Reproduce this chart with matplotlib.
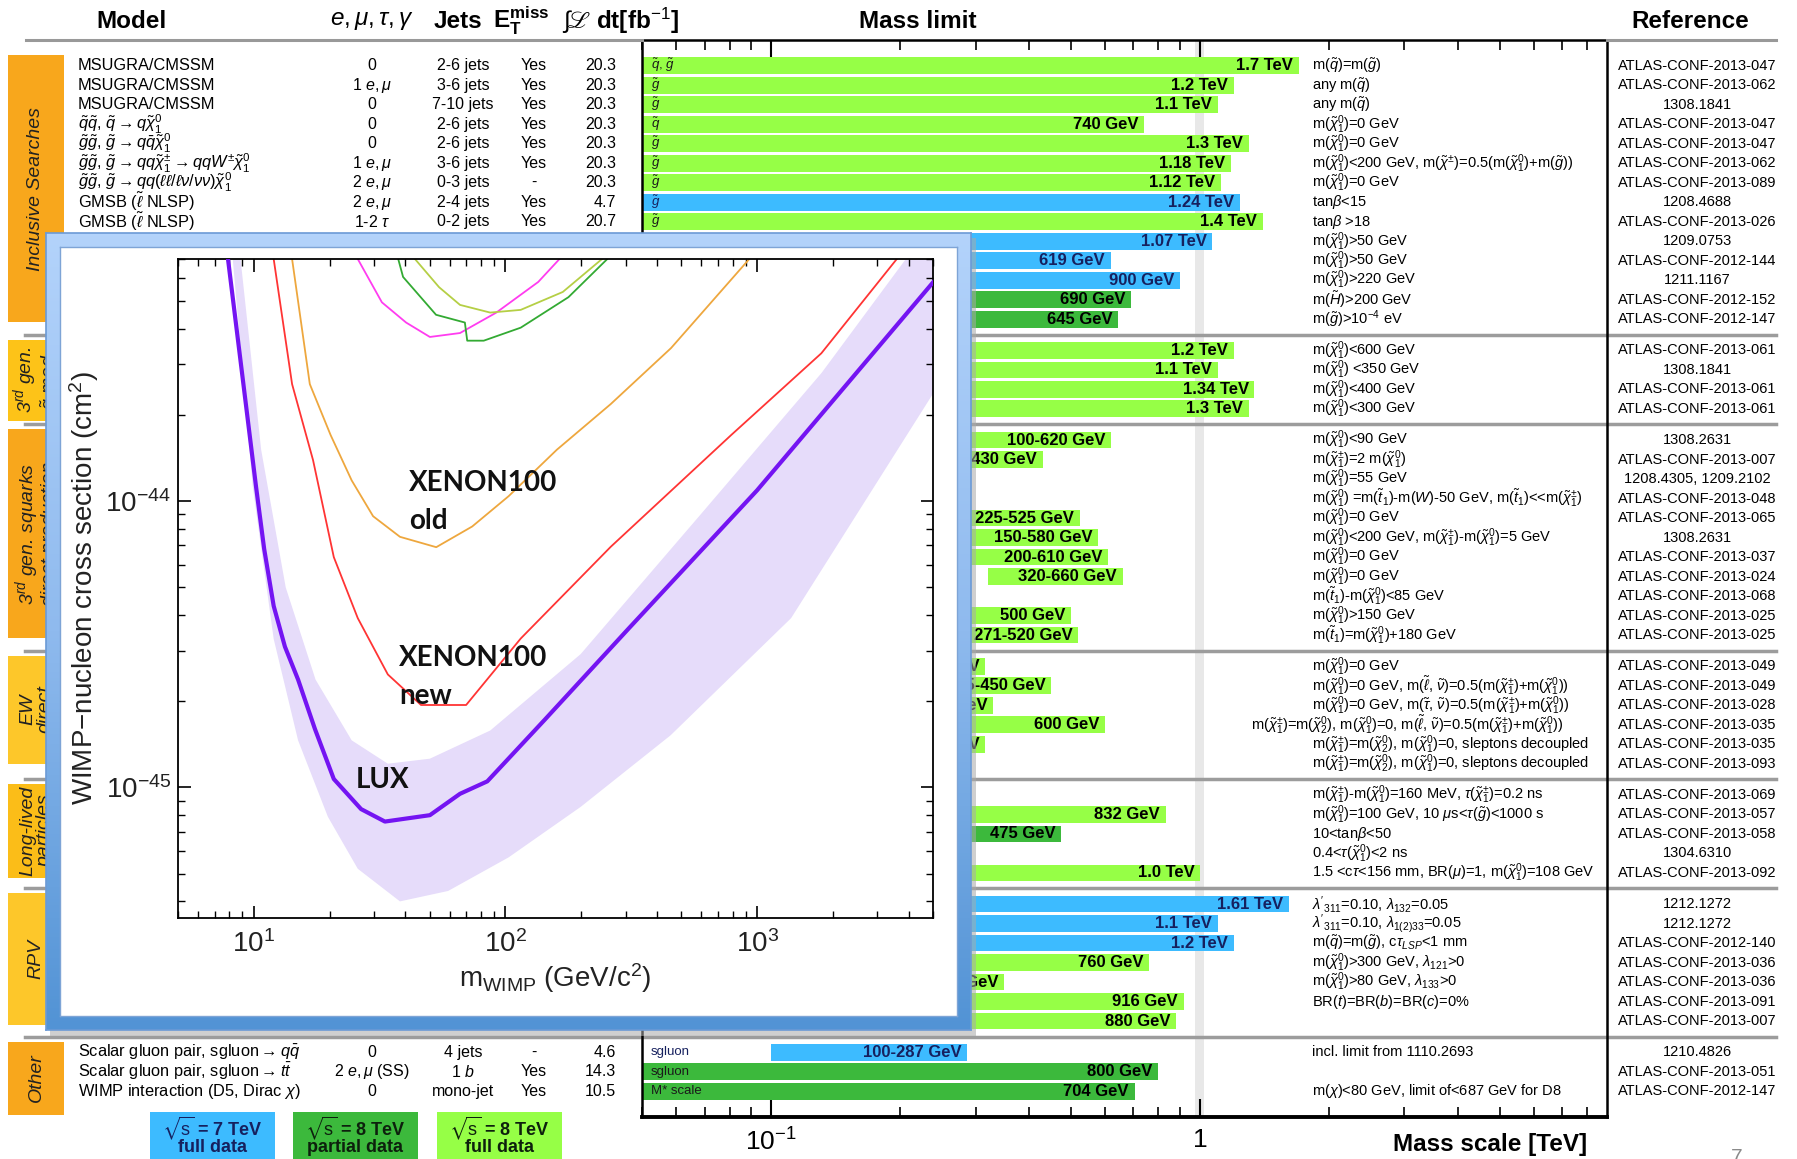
import numpy as np
import matplotlib
matplotlib.use('Agg')
import matplotlib.pyplot as plt
import matplotlib.transforms as mtransforms
from matplotlib.patches import Rectangle
from matplotlib.lines import Line2D
from matplotlib.colors import LinearSegmentedColormap
from matplotlib.ticker import NullFormatter

plt.rcParams['font.family'] = ['Liberation Sans', 'DejaVu Sans']
plt.rcParams['mathtext.fontset'] = 'custom'
plt.rcParams['mathtext.rm'] = 'Liberation Sans'
plt.rcParams['mathtext.it'] = 'Liberation Sans:italic'
plt.rcParams['mathtext.bf'] = 'Liberation Sans:bold'
plt.rcParams['mathtext.fallback'] = 'stix'

# ---------------- table data ----------------
section_names = ['Inclusive Searches', '3$^{rd}$ gen.\n$\\tilde{g}$ med.',
                 '3$^{rd}$ gen. squarks\ndirect production', 'EW\ndirect',
                 'Long-lived\nparticles', 'RPV', 'Other']
section_sizes = [14, 4, 11, 6, 5, 7, 3]

models = [
    'MSUGRA/CMSSM', 'MSUGRA/CMSSM', 'MSUGRA/CMSSM',
    r'$\tilde{q}\tilde{q}$, $\tilde{q}\rightarrow q\tilde{\chi}_1^0$',
    r'$\tilde{g}\tilde{g}$, $\tilde{g}\rightarrow q\bar{q}\tilde{\chi}_1^0$',
    r'$\tilde{g}\tilde{g}$, $\tilde{g}\rightarrow qq\tilde{\chi}_1^{\pm}\rightarrow qqW^{\pm}\tilde{\chi}_1^0$',
    r'$\tilde{g}\tilde{g}$, $\tilde{g}\rightarrow qq(\ell\ell/\ell\nu/\nu\nu)\tilde{\chi}_1^0$',
    r'GMSB ($\tilde{\ell}$ NLSP)', r'GMSB ($\tilde{\ell}$ NLSP)',
    'GGM (bino NLSP)', 'GGM (wino NLSP)', 'GGM (higgsino-bino NLSP)',
    'GGM (higgsino NLSP)', 'Gravitino LSP',
    r'$\tilde{g}\rightarrow b\bar{b}\tilde{\chi}_1^0$', r'$\tilde{g}\rightarrow t\bar{t}\tilde{\chi}_1^0$',
    r'$\tilde{g}\rightarrow t\bar{t}\tilde{\chi}_1^0$', r'$\tilde{g}\rightarrow b\bar{t}\tilde{\chi}_1^+$',
    r'$\tilde{b}_1\tilde{b}_1$, $\tilde{b}_1\rightarrow b\tilde{\chi}_1^0$',
    r'$\tilde{b}_1\tilde{b}_1$, $\tilde{b}_1\rightarrow t\tilde{\chi}_1^{\pm}$',
    r'$\tilde{t}_1\tilde{t}_1$(light), $\tilde{t}_1\rightarrow b\tilde{\chi}_1^{\pm}$',
    r'$\tilde{t}_1\tilde{t}_1$(light), $\tilde{t}_1\rightarrow Wb\tilde{\chi}_1^0$',
    r'$\tilde{t}_1\tilde{t}_1$(medium), $\tilde{t}_1\rightarrow t\tilde{\chi}_1^0$',
    r'$\tilde{t}_1\tilde{t}_1$(medium), $\tilde{t}_1\rightarrow b\tilde{\chi}_1^{\pm}$',
    r'$\tilde{t}_1\tilde{t}_1$(heavy), $\tilde{t}_1\rightarrow t\tilde{\chi}_1^0$',
    r'$\tilde{t}_1\tilde{t}_1$(heavy), $\tilde{t}_1\rightarrow t\tilde{\chi}_1^0$',
    r'$\tilde{t}_1\tilde{t}_1$, $\tilde{t}_1\rightarrow c\tilde{\chi}_1^0$',
    r'$\tilde{t}_1\tilde{t}_1$(natural GMSB)',
    r'$\tilde{t}_2\tilde{t}_2$, $\tilde{t}_2\rightarrow\tilde{t}_1+Z$',
    r'$\tilde{\ell}_{L,R}\tilde{\ell}_{L,R}$, $\tilde{\ell}\rightarrow\ell\tilde{\chi}_1^0$',
    r'$\tilde{\chi}_1^+\tilde{\chi}_1^-$, $\tilde{\chi}_1^+\rightarrow\tilde{\ell}\nu$',
    r'$\tilde{\chi}_1^+\tilde{\chi}_1^-$, $\tilde{\chi}_1^+\rightarrow\tilde{\tau}\nu$',
    r'$\tilde{\chi}_1^{\pm}\tilde{\chi}_2^0\rightarrow\tilde{\ell}_L\nu\tilde{\ell}_L\ell$',
    r'$\tilde{\chi}_1^{\pm}\tilde{\chi}_2^0\rightarrow W\tilde{\chi}_1^0Z\tilde{\chi}_1^0$',
    r'$\tilde{\chi}_1^{\pm}\tilde{\chi}_2^0\rightarrow W\tilde{\chi}_1^0h\tilde{\chi}_1^0$',
    r'Direct $\tilde{\chi}_1^+\tilde{\chi}_1^-$ prod., long-lived $\tilde{\chi}_1^{\pm}$',
    r'Stable, stopped $\tilde{g}$ R-hadron', r'GMSB, stable $\tilde{\tau}$',
    r'GMSB, $\tilde{\chi}_1^0\rightarrow\gamma\tilde{G}$, long-lived $\tilde{\chi}_1^0$',
    r'$\tilde{q}\tilde{q}$, $\tilde{\chi}_1^0\rightarrow qq\mu$ (RPV)',
    r'LFV $pp\rightarrow\tilde{\nu}_\tau+X$, $\tilde{\nu}_\tau\rightarrow e+\mu$',
    r'LFV $pp\rightarrow\tilde{\nu}_\tau+X$, $\tilde{\nu}_\tau\rightarrow e(\mu)+\tau$',
    'Bilinear RPV CMSSM',
    r'$\tilde{\chi}_1^+\tilde{\chi}_1^-$, $\tilde{\chi}_1^+\rightarrow W\tilde{\chi}_1^0$, $\tilde{\chi}_1^0\rightarrow ee\tilde{\nu}_\mu$',
    r'$\tilde{\chi}_1^+\tilde{\chi}_1^-$, $\tilde{\chi}_1^+\rightarrow W\tilde{\chi}_1^0$, $\tilde{\chi}_1^0\rightarrow\tau\tau\tilde{\nu}_e$',
    r'$\tilde{g}\rightarrow qqq$', r'$\tilde{g}\rightarrow\tilde{t}_1t$, $\tilde{t}_1\rightarrow bs$',
    r'Scalar gluon pair, sgluon$\rightarrow q\bar{q}$',
    r'Scalar gluon pair, sgluon$\rightarrow t\bar{t}$',
    r'WIMP interaction (D5, Dirac $\chi$)',
]

leptons = ['0', r'1 $e,\mu$', '0', '0', '0', r'1 $e,\mu$', r'2 $e,\mu$', r'2 $e,\mu$', r'1-2 $\tau$',
           r'2 $\gamma$', r'1 $e,\mu$ + $\gamma$', r'$\gamma$', r'2 $e,\mu$ (Z)', '0',
           '0', '0', r'0-1 $e,\mu$', r'0-1 $e,\mu$',
           '0', r'2 $e,\mu$ (SS)', r'1-2 $e,\mu$', r'2 $e,\mu$', r'2 $e,\mu$', '0', r'1 $e,\mu$',
           '0', '0', r'2 $e,\mu$ (Z)', r'3 $e,\mu$ (Z)',
           r'2 $e,\mu$', r'2 $e,\mu$', r'2 $\tau$', r'3 $e,\mu$', r'3 $e,\mu$', r'1 $e,\mu$',
           'Disapp. trk', '0', r'1-2 $\mu$', r'2 $\gamma$', r'1 $\mu$, displ. vtx',
           r'2 $e,\mu$', r'1 $e,\mu$ + $\tau$', r'1 $e,\mu$', r'4 $e,\mu$', r'3 $e,\mu$ + $\tau$', '0',
           r'2 $e,\mu$ (SS)',
           '0', r'2 $e,\mu$ (SS)', '0']

jets = ['2-6 jets', '3-6 jets', '7-10 jets', '2-6 jets', '2-6 jets', '3-6 jets', '0-3 jets', '2-4 jets',
        '0-2 jets', '-', '-', r'1 $b$', '0-3 jets', 'mono-jet',
        r'3 $b$', '7-10 jets', r'3 $b$', r'3 $b$',
        r'2 $b$', r'0-3 $b$', r'1-2 $b$', '0-2 jets', '2 jets', r'2 $b$', r'1 $b$', r'2 $b$',
        'mono-jet/c-tag', r'1 $b$', r'1 $b$',
        '0', '0', '0', '0', '0', r'2 $b$',
        '1 jet', '1-5 jets', '-', '-', '-',
        '-', '-', '7 jets', '-', '-', '6-7 jets', r'0-3 $b$',
        '4 jets', r'1 $b$', 'mono-jet']

etmiss = ['Yes'] * 6 + ['-'] + ['Yes'] * 7 + ['Yes'] * 4 + ['Yes'] * 11 + ['Yes'] * 6 + \
         ['Yes', 'Yes', '-', 'Yes', '-'] + ['-', '-', 'Yes', 'Yes', 'Yes', '-', 'Yes'] + ['-', 'Yes', 'Yes']

lumi = [20.3] * 7 + [4.7, 20.7, 4.8, 4.8, 4.8, 5.8, 10.5,
                     20.1, 20.3, 20.1, 20.1,
                     20.1, 20.7, 4.7, 20.3, 20.3, 20.1, 20.7, 20.5, 20.3, 20.7, 20.7,
                     20.3, 20.3, 20.7, 20.7, 20.7, 20.3,
                     20.3, 22.9, 15.9, 4.7, 20.3,
                     4.6, 4.6, 4.7, 20.7, 20.7, 20.3, 20.7,
                     4.6, 14.3, 10.5]

# ---------------- mass limits (TeV) ----------------
particles = [r'$\tilde{q}$, $\tilde{g}$'] + [r'$\tilde{g}$'] * 2 + [r'$\tilde{q}$'] + [r'$\tilde{g}$'] * 9 + \
            ['F$^{1/2}$ scale'] + [r'$\tilde{g}$'] * 4 + [r'$\tilde{b}_1$'] * 2 + [r'$\tilde{t}_1$'] * 8 + \
            [r'$\tilde{t}_2$', r'$\tilde{\ell}$', r'$\tilde{\chi}_1^{\pm}$', r'$\tilde{\chi}_1^{\pm}$'] + \
            [r'$\tilde{\chi}_1^{\pm}$, $\tilde{\chi}_2^0$'] * 3 + \
            [r'$\tilde{\chi}_1^{\pm}$', r'$\tilde{g}$', r'$\tilde{\tau}$', r'$\tilde{\chi}_1^0$', r'$\tilde{q}$',
             r'$\tilde{\nu}_\tau$', r'$\tilde{\nu}_\tau$', r'$\tilde{q}=\tilde{g}$', r'$\tilde{\chi}_1^{\pm}$',
             r'$\tilde{\chi}_1^{\pm}$', r'$\tilde{g}$', r'$\tilde{g}$', 'sgluon', 'sgluon', 'M* scale']

mass_low = [0] * 18 + [0.1, 0.275, 0.11, 0.13, 0.225, 0.15, 0.2, 0.32, 0.09, 0, 0.271,
                       0.085, 0.125, 0.18, 0, 0, 0] + [0] * 12 + [0.1, 0, 0]
mass_high = [1.7, 1.2, 1.1, 0.74, 1.3, 1.18, 1.12, 1.24, 1.4, 1.07, 0.619, 0.9, 0.69, 0.645,
             1.2, 1.1, 1.34, 1.3,
             0.62, 0.43, 0.167, 0.22, 0.525, 0.58, 0.61, 0.66, 0.2, 0.5, 0.52,
             0.315, 0.45, 0.33, 0.6, 0.315, 0.285,
             0.27, 0.832, 0.475, 0.23, 1.0,
             1.61, 1.1, 1.2, 0.76, 0.35, 0.916, 0.88,
             0.287, 0.8, 0.704]
mass_labels = ['1.7 TeV', '1.2 TeV', '1.1 TeV', '740 GeV', '1.3 TeV', '1.18 TeV', '1.12 TeV', '1.24 TeV',
               '1.4 TeV', '1.07 TeV', '619 GeV', '900 GeV', '690 GeV', '645 GeV',
               '1.2 TeV', '1.1 TeV', '1.34 TeV', '1.3 TeV',
               '100-620 GeV', '275-430 GeV', '110-167 GeV', '130-220 GeV', '225-525 GeV', '150-580 GeV',
               '200-610 GeV', '320-660 GeV', '90-200 GeV', '500 GeV', '271-520 GeV',
               '85-315 GeV', '125-450 GeV', '180-330 GeV', '600 GeV', '315 GeV', '285 GeV',
               '270 GeV', '832 GeV', '475 GeV', '230 GeV', '1.0 TeV',
               '1.61 TeV', '1.1 TeV', '1.2 TeV', '760 GeV', '350 GeV', '916 GeV', '880 GeV',
               '100-287 GeV', '800 GeV', '704 GeV']
# B: 7 TeV full data, D: 8 TeV partial data, L: 8 TeV full data
dataset = 'LLLLLLLBLBBBDD' + 'LLLL' + 'LLBLLLLLLLL' + 'LLLLLL' + 'LLDBL' + 'BBBLLLL' + 'BDD'

conditions = [
    r'm($\tilde{q}$)=m($\tilde{g}$)', r'any m($\tilde{q}$)', r'any m($\tilde{q}$)',
    r'm($\tilde{\chi}_1^0$)=0 GeV', r'm($\tilde{\chi}_1^0$)=0 GeV',
    r'm($\tilde{\chi}_1^0$)<200 GeV, m($\tilde{\chi}^{\pm}$)=0.5(m($\tilde{\chi}_1^0$)+m($\tilde{g}$))',
    r'm($\tilde{\chi}_1^0$)=0 GeV', r'tan$\beta$<15', r'tan$\beta$ >18',
    r'm($\tilde{\chi}_1^0$)>50 GeV', r'm($\tilde{\chi}_1^0$)>50 GeV', r'm($\tilde{\chi}_1^0$)>220 GeV',
    r'm($\tilde{H}$)>200 GeV', r'm($\tilde{g}$)>10$^{-4}$ eV',
    r'm($\tilde{\chi}_1^0$)<600 GeV', r'm($\tilde{\chi}_1^0$) <350 GeV', r'm($\tilde{\chi}_1^0$)<400 GeV',
    r'm($\tilde{\chi}_1^0$)<300 GeV',
    r'm($\tilde{\chi}_1^0$)<90 GeV', r'm($\tilde{\chi}_1^{\pm}$)=2 m($\tilde{\chi}_1^0$)',
    r'm($\tilde{\chi}_1^0$)=55 GeV',
    r'm($\tilde{\chi}_1^0$) =m($\tilde{t}_1$)-m($W$)-50 GeV, m($\tilde{t}_1$)<<m($\tilde{\chi}_1^{\pm}$)',
    r'm($\tilde{\chi}_1^0$)=0 GeV',
    r'm($\tilde{\chi}_1^0$)<200 GeV, m($\tilde{\chi}_1^{\pm}$)-m($\tilde{\chi}_1^0$)=5 GeV',
    r'm($\tilde{\chi}_1^0$)=0 GeV', r'm($\tilde{\chi}_1^0$)=0 GeV',
    r'm($\tilde{t}_1$)-m($\tilde{\chi}_1^0$)<85 GeV', r'm($\tilde{\chi}_1^0$)>150 GeV',
    r'm($\tilde{t}_1$)=m($\tilde{\chi}_1^0$)+180 GeV',
    r'm($\tilde{\chi}_1^0$)=0 GeV',
    r'm($\tilde{\chi}_1^0$)=0 GeV, m($\tilde{\ell}$, $\tilde{\nu}$)=0.5(m($\tilde{\chi}_1^{\pm}$)+m($\tilde{\chi}_1^0$))',
    r'm($\tilde{\chi}_1^0$)=0 GeV, m($\tilde{\tau}$, $\tilde{\nu}$)=0.5(m($\tilde{\chi}_1^{\pm}$)+m($\tilde{\chi}_1^0$))',
    r'm($\tilde{\chi}_1^{\pm}$)=m($\tilde{\chi}_2^0$), m($\tilde{\chi}_1^0$)=0, m($\tilde{\ell}$, $\tilde{\nu}$)=0.5(m($\tilde{\chi}_1^{\pm}$)+m($\tilde{\chi}_1^0$))',
    r'm($\tilde{\chi}_1^{\pm}$)=m($\tilde{\chi}_2^0$), m($\tilde{\chi}_1^0$)=0, sleptons decoupled',
    r'm($\tilde{\chi}_1^{\pm}$)=m($\tilde{\chi}_2^0$), m($\tilde{\chi}_1^0$)=0, sleptons decoupled',
    r'm($\tilde{\chi}_1^{\pm}$)-m($\tilde{\chi}_1^0$)=160 MeV, $\tau$($\tilde{\chi}_1^{\pm}$)=0.2 ns',
    r'm($\tilde{\chi}_1^0$)=100 GeV, 10 $\mu$s<$\tau$($\tilde{g}$)<1000 s',
    r'10<tan$\beta$<50', r'0.4<$\tau$($\tilde{\chi}_1^0$)<2 ns',
    r'1.5 <c$\tau$<156 mm, BR($\mu$)=1, m($\tilde{\chi}_1^0$)=108 GeV',
    r"$\lambda'_{311}$=0.10, $\lambda_{132}$=0.05", r"$\lambda'_{311}$=0.10, $\lambda_{1(2)33}$=0.05",
    r'm($\tilde{q}$)=m($\tilde{g}$), c$\tau_{LSP}$<1 mm', r'm($\tilde{\chi}_1^0$)>300 GeV, $\lambda_{121}$>0',
    r'm($\tilde{\chi}_1^0$)>80 GeV, $\lambda_{133}$>0', r'BR($t$)=BR($b$)=BR($c$)=0%', '',
    'incl. limit from 1110.2693', '', r'm($\chi$)<80 GeV, limit of<687 GeV for D8',
]

references = ['ATLAS-CONF-2013-047', 'ATLAS-CONF-2013-062', '1308.1841', 'ATLAS-CONF-2013-047',
              'ATLAS-CONF-2013-047', 'ATLAS-CONF-2013-062', 'ATLAS-CONF-2013-089', '1208.4688',
              'ATLAS-CONF-2013-026', '1209.0753', 'ATLAS-CONF-2012-144', '1211.1167',
              'ATLAS-CONF-2012-152', 'ATLAS-CONF-2012-147',
              'ATLAS-CONF-2013-061', '1308.1841', 'ATLAS-CONF-2013-061', 'ATLAS-CONF-2013-061',
              '1308.2631', 'ATLAS-CONF-2013-007', '1208.4305, 1209.2102', 'ATLAS-CONF-2013-048',
              'ATLAS-CONF-2013-065', '1308.2631', 'ATLAS-CONF-2013-037', 'ATLAS-CONF-2013-024',
              'ATLAS-CONF-2013-068', 'ATLAS-CONF-2013-025', 'ATLAS-CONF-2013-025',
              'ATLAS-CONF-2013-049', 'ATLAS-CONF-2013-049', 'ATLAS-CONF-2013-028', 'ATLAS-CONF-2013-035',
              'ATLAS-CONF-2013-035', 'ATLAS-CONF-2013-093',
              'ATLAS-CONF-2013-069', 'ATLAS-CONF-2013-057', 'ATLAS-CONF-2013-058', '1304.6310',
              'ATLAS-CONF-2013-092',
              '1212.1272', '1212.1272', 'ATLAS-CONF-2012-140', 'ATLAS-CONF-2013-036',
              'ATLAS-CONF-2013-036', 'ATLAS-CONF-2013-091', 'ATLAS-CONF-2013-007',
              '1210.4826', 'ATLAS-CONF-2013-051', 'ATLAS-CONF-2012-147']

legend_lines = [(r'$\sqrt{\mathrm{s}}$ = 7 TeV', 'full data'),
                (r'$\sqrt{\mathrm{s}}$ = 8 TeV', 'partial data'),
                (r'$\sqrt{\mathrm{s}}$ = 8 TeV', 'full data')]

# ---------------- inset: WIMP-nucleon limits ----------------
lux_m = [7.9, 10.2, 11.0, 12.0, 13.3, 15.0, 17.5, 20.8, 26.7, 33.2, 50.1, 66, 84.7, 143, 309, 1000, 5000]
lux_s = [7.0e-44, 1.13e-44, 6.8e-45, 4.3e-45, 3.1e-45, 2.38e-45, 1.6e-45, 1.07e-45, 8.4e-46, 7.6e-46,
         8.0e-46, 9.5e-46, 1.05e-45, 1.72e-45, 3.59e-45, 1.09e-44, 5.8e-44]
band_up_m = [8.86, 10.7, 13.4, 17.6, 24.5, 34.1, 50.1, 87, 199, 598, 1803, 3900, 5000]
band_up_s = [7.0e-44, 1.51e-44, 4.99e-45, 2.38e-45, 1.46e-45, 1.21e-45, 1.26e-45, 1.58e-45,
             2.92e-45, 9.0e-45, 2.8e-44, 7.0e-44, 7.0e-44]
band_lo_m = [8.25, 9.9, 12.0, 15.0, 19.7, 25.9, 38.1, 59.2, 103, 199, 453, 1365, 5000]
band_lo_s = [7.0e-44, 1.13e-44, 3.3e-45, 1.46e-45, 7.9e-46, 5.2e-46, 4.0e-46, 4.35e-46, 5.7e-46,
             8.55e-46, 1.52e-45, 3.9e-45, 2.37e-44]
xe_new_m = [12.0, 14.2, 17.2, 20.8, 25.9, 34.1, 46.2, 69.8, 115, 262, 789, 1800, 3590]
xe_new_s = [7.0e-44, 2.56e-44, 1.39e-44, 6.37e-45, 3.9e-45, 2.48e-45, 1.94e-45, 1.94e-45, 3.31e-45,
            6.92e-45, 1.70e-44, 3.28e-44, 7.0e-44]
xe_old_m = [14.2, 16.7, 20.2, 24.5, 29.8, 38.1, 53.1, 73.8, 103, 160, 262, 455, 931]
xe_old_s = [7.0e-44, 2.56e-44, 1.70e-44, 1.18e-44, 8.85e-45, 7.5e-45, 6.9e-45, 8.15e-45, 1.04e-44,
            1.51e-44, 2.18e-44, 3.42e-44, 7.0e-44]
mag_m = [25.9, 32.3, 40.3, 50.1, 66, 92, 135, 164]
mag_s = [7.0e-44, 4.94e-44, 4.2e-44, 3.74e-44, 3.86e-44, 4.55e-44, 5.82e-44, 7.0e-44]
grn_m = [37.5, 39.2, 53, 69, 70.5, 82, 115, 178, 254]
grn_s = [7.0e-44, 6.06e-44, 4.47e-44, 4.2e-44, 3.63e-44, 3.63e-44, 4.03e-44, 5.15e-44, 7.0e-44]
ylw_m = [43.7, 54.5, 66, 87, 115, 169, 242]
ylw_s = [7.0e-44, 5.58e-44, 4.84e-44, 4.55e-44, 4.65e-44, 5.37e-44, 7.0e-44]

# ---------------- figure ----------------
W, H = 1797, 1159
fig = plt.figure(figsize=(W / 100, H / 100), dpi=100)


def box(x0, y0, x1, y1):
    # pixel box measured from the top-left corner -> figure fraction rect
    return [x0 / W, 1 - y1 / H, (x1 - x0) / W, (y1 - y0) / H]


inset_px = (46, 233, 971, 1030)  # the pasted plot covers this part of the table


def covered(px_right, py):
    return px_right <= inset_px[2] and inset_px[1] <= py <= inset_px[3]


bar_colors = {'B': '#3dbbff', 'D': '#3cb93c', 'L': '#96ff46'}
section_colors = ['#f8a71c', '#fdc318', '#f8a71c', '#fdc72a', '#fbbd18', '#fdc72a', '#f8a71c']
box_extra = [0.15, 0.6, 0.15, 0.0, 0.25, 0.2, 1.2]

ax = fig.add_axes(box(642, 40, 1607, 1117))
tr = mtransforms.blended_transform_factory(fig.transFigure, ax.transData)

n = len(mass_high)
sec = np.repeat(np.arange(len(section_sizes)), section_sizes)
ypos = np.arange(n) + 0.6 * sec
xmin, xmax = 0.05, 8.9

ax.set_xscale('log')
ax.set_xlim(xmin, xmax)
ax.set_ylim(ypos[-1] + 1.32, -1.32)

ax.axvspan(0.972, 1.024, color='#e8e8e8', lw=0, zorder=0)
for i in range(n):
    left = mass_low[i] if mass_low[i] > 0 else xmin
    ax.barh(ypos[i], mass_high[i] - left, left=left, height=0.86,
            color=bar_colors[dataset[i]], lw=0, zorder=2)
    px_end, py = ax.transData.transform((mass_high[i], ypos[i]))
    py = H - py
    tc = '#16205e' if dataset[i] == 'B' else 'black'
    if not covered(px_end, py):
        ax.annotate(mass_labels[i], (mass_high[i], ypos[i]), xytext=(-4, 0), textcoords='offset points',
                    ha='right', va='center', fontsize=12, fontweight='bold', color=tc, zorder=3)
    if covered(700, py):
        continue
    ax.text(651 / W, ypos[i], particles[i], transform=tr, ha='left', va='center',
            fontsize=9.5, color=tc if dataset[i] == 'B' else '#1a1a1a', zorder=3)

    # left table
    ax.text(78 / W, ypos[i], models[i], transform=tr, ha='left', va='center', fontsize=11.8)
    ax.text(372 / W, ypos[i], leptons[i], transform=tr, ha='center', va='center', fontsize=11.5)
    ax.text(463 / W, ypos[i], jets[i], transform=tr, ha='center', va='center', fontsize=11.5)
    ax.text(534 / W, ypos[i], etmiss[i], transform=tr, ha='center', va='center', fontsize=11.5)
    ax.text(616 / W, ypos[i], f'{lumi[i]:.1f}', transform=tr, ha='right', va='center', fontsize=11.5)

for i in range(n):
    # right table
    cx = 1251 if i == 32 else 1312
    ax.text(cx / W, ypos[i], conditions[i], transform=tr, ha='left', va='center', fontsize=10.5)
    ax.text(1697 / W, ypos[i], references[i], transform=tr, ha='center', va='center', fontsize=10.5)

starts = np.cumsum([0] + section_sizes[:-1])
for s in range(len(section_sizes)):
    first = ypos[starts[s]]
    last = ypos[starts[s] + section_sizes[s] - 1]
    top, bot = first - 0.55, last + box_extra[s]
    ax.add_patch(Rectangle((8 / W, top), 56 / W, bot - top, transform=tr, color=section_colors[s],
                           lw=0, clip_on=False, zorder=1))
    ax.text(36 / W, (top + bot) / 2, section_names[s], transform=tr, rotation=90, ha='center',
            va='center', style='italic', fontsize=14, color='#222222', linespacing=1.0)
    if s > 0:
        ax.plot([25 / W, 1776 / W], [first - 0.8] * 2, transform=tr, color='#9c9c9c', lw=2.5,
                clip_on=False, zorder=1)

ax.set_xlim(xmin, xmax)
ax.set_ylim(ypos[-1] + 1.32, -1.32)
ax.set_yticks([])
ax.set_xticks([0.1, 1])
ax.set_xticklabels([r'$10^{-1}$', '1'])
ax.xaxis.set_minor_formatter(NullFormatter())
ax.tick_params(axis='x', which='major', direction='in', top=True, length=13, width=1.5,
               labelsize=19, pad=8)
ax.tick_params(axis='x', which='minor', direction='in', top=True, length=7, width=1.2)
for side in ['left', 'right', 'top']:
    ax.spines[side].set_linewidth(1.8)
ax.spines['bottom'].set_linewidth(2.8)

# header
for x, s in [(132, 'Model'), (372, r'$e, \mu, \tau, \gamma$'), (458, 'Jets'),
             (521, r'$\mathbf{E}_{\mathbf{T}}^{\mathbf{miss}}$'),
             (620, r'$\int\!ℒ$ dt[fb$^{-1}$]'), (918, 'Mass limit'), (1690, 'Reference')]:
    fig.text(x / W, 1 - 21 / H, s, ha='center', va='center', fontsize=17.5, fontweight='bold')
for x0, x1 in [(26, 642), (1607, 1776)]:
    fig.add_artist(Line2D([x0 / W, x1 / W], [1 - 40 / H] * 2, color='#999999', lw=2.2))

fig.text(1490 / W, 1 - 1144 / H, 'Mass scale [TeV]', ha='center', va='center', fontsize=17.5,
         fontweight='bold')
fig.text(1737 / W, 1 - 1148 / H, '7', ha='center', va='top', fontsize=15, color='#8a8a8a')

# legend boxes
for k, (x0, code) in enumerate([(150, 'B'), (293, 'D'), (437, 'L')]):
    fig.add_artist(Rectangle((x0 / W, 1 - 1165 / H), 125 / W, 53 / H, transform=fig.transFigure,
                             color=bar_colors[code], lw=0))
    tc = '#16205e' if code == 'B' else '#0d200d'
    fig.text((x0 + 62) / W, 1 - 1128 / H, legend_lines[k][0], ha='center', va='center',
             fontsize=13, fontweight='bold', color=tc)
    fig.text((x0 + 62) / W, 1 - 1148 / H, legend_lines[k][1], ha='center', va='center',
             fontsize=13, fontweight='bold', color=tc)

# ---------------- inset frame ----------------
shadow = fig.add_axes(box(50, 238, 976, 1036), zorder=9)
shadow.set_facecolor('#a9a9a9')
shadow.patch.set_alpha(0.55)
shadow.set_xticks([])
shadow.set_yticks([])
for sp in shadow.spines.values():
    sp.set_visible(False)

frame = fig.add_axes(box(*inset_px), zorder=10)
cmap = LinearSegmentedColormap.from_list('frame', ['#b3d3fb', '#8fbaee', '#5293d5'])
frame.imshow(np.linspace(0, 1, 256)[:, None], aspect='auto', cmap=cmap, extent=[0, 1, 0, 1],
             origin='upper')
frame.set_xticks([])
frame.set_yticks([])
for sp in frame.spines.values():
    sp.set_color('#6b9ad6')
    sp.set_linewidth(1.2)

panel = fig.add_axes(box(60, 247, 957, 1016), zorder=11)
panel.set_xticks([])
panel.set_yticks([])
for sp in panel.spines.values():
    sp.set_color('#7ea4d6')
    sp.set_linewidth(1.0)

axi = fig.add_axes(box(178, 259, 933, 918), zorder=12)
axi.fill(np.r_[band_up_m, band_lo_m[::-1]], np.r_[band_up_s, band_lo_s[::-1]],
         color='#e6dcfa', lw=0, zorder=1)
axi.plot(xe_old_m, xe_old_s, color='#eea73e', lw=1.3, zorder=2)
axi.plot(xe_new_m, xe_new_s, color='#ff3434', lw=1.3, zorder=2)
axi.plot(mag_m, mag_s, color='#ff3cf0', lw=1.3, zorder=2)
axi.plot(grn_m, grn_s, color='#33aa33', lw=1.3, zorder=2)
axi.plot(ylw_m, ylw_s, color='#b5cf45', lw=1.3, zorder=2)
axi.plot(lux_m, lux_s, color='#7414f2', lw=3.0, zorder=3)

lab = dict(fontsize=20, fontweight='bold', family='Lato', ha='left', va='center', color='#111111')
axi.text(41.4, 1.16e-44, 'XENON100', **lab)
axi.text(41.4, 8.55e-45, 'old', **lab)
axi.text(37.8, 2.83e-45, 'XENON100', **lab)
axi.text(37.8, 2.09e-45, 'new', **lab)
axi.text(25.5, 1.06e-45, 'LUX', **lab)

axi.set_xscale('log')
axi.set_yscale('log')
axi.set_xlim(5, 5000)
axi.set_ylim(3.5e-46, 7e-44)
axi.xaxis.set_minor_formatter(NullFormatter())
axi.yaxis.set_minor_formatter(NullFormatter())
axi.tick_params(which='both', direction='in', top=True, right=True, labelsize=20,
                labelcolor='#222222')
axi.tick_params(which='major', length=9, width=1.2)
axi.tick_params(which='minor', length=5, width=1.0)
axi.tick_params(axis='x', pad=9)
axi.tick_params(axis='y', pad=5)
for sp in axi.spines.values():
    sp.set_linewidth(1.3)
axi.set_ylabel(r'WIMP$-$nucleon cross section (cm$^2$)', fontsize=20, labelpad=3, color='#222222')
axi.set_xlabel(r'm$_{\mathrm{WIMP}}$ (GeV/c$^2$)', fontsize=20, labelpad=2, color='#222222')

fig.savefig('out.png', dpi=100)
